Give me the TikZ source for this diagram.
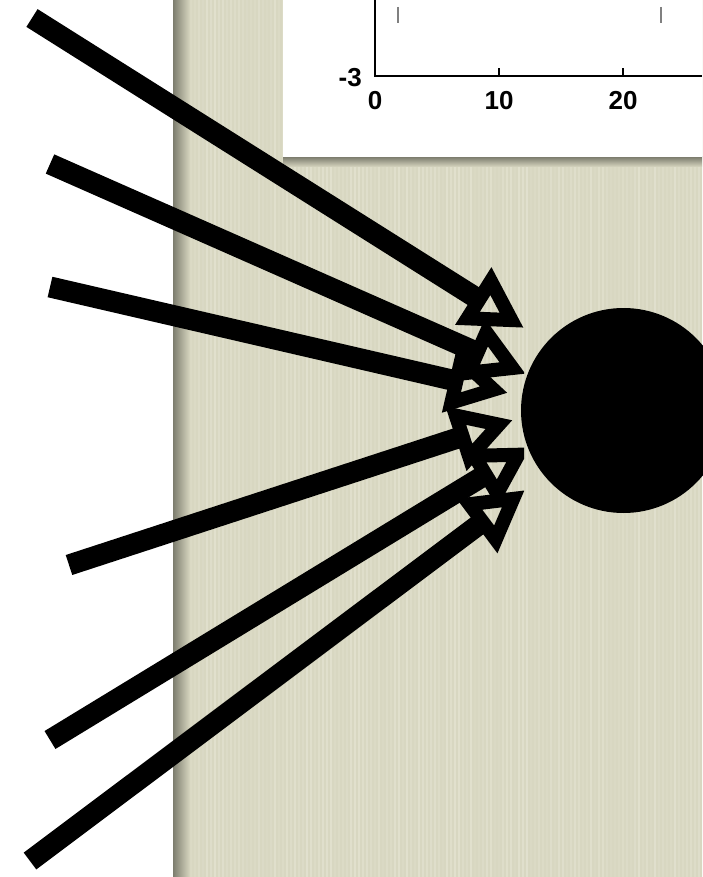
\documentclass[tikz,border=0pt]{standalone}
\usepackage{fontspec}
\newfontfamily\plotfont{Liberation Sans}
\usetikzlibrary{arrows.meta}
\definecolor{papel}{RGB}{216,215,193}
\definecolor{papelclaro}{RGB}{230,229,212}
\definecolor{sombra}{RGB}{125,125,110}

\tikzset{
  feed/.style={line width=21pt, -{Triangle[open, length=60pt, width=64pt, line width=14pt]}},
  ticklabel/.style={font=\plotfont\bfseries\fontsize{26}{28}\selectfont, inner sep=0pt},
}

\begin{document}
\begin{tikzpicture}[x=1pt, y=-1pt]
  \useasboundingbox (0,0) rectangle (702,877);
  % paper background
  \fill[papel] (173,0) rectangle (702,877);
  \pgfmathsetseed{7}
  \foreach \i in {0,...,130} { \pgfmathsetmacro\xx{186+4*\i} \pgfmathsetmacro\oo{0.15+0.55*rnd} \fill[papelclaro, opacity=\oo] (\xx,0) rectangle (\xx+2,877); }
  \shade[left color=sombra, right color=papel] (173,0) rectangle (190,877);
  % plot box
  \shade[top color=sombra, bottom color=papel] (283,157) rectangle (702,167);
  \fill[white] (283,0) rectangle (702,157);
  \draw[line width=2pt] (375,0) -- (375,76) -- (702,76);
  \foreach \x in {499,623} \draw[line width=1.5pt] (\x,76) -- (\x,68);
  \foreach \x in {398,661} \draw[gray, line width=1.5pt] (\x,7) -- (\x,23);
  \foreach \x/\l in {375/0, 499/10, 623/20} { \node[ticklabel] (tick\l) at (\x,101) {\l}; }
  \node[ticklabel, anchor=east] (ymin) at (362,78) {-3};
  % cell
  \node[circle, fill=black, minimum size=205pt, inner sep=0pt] (cell) at (623.5,410.5) {};
  % inputs
  \foreach \n/\sx/\sy/\tx/\ty in {1/32/18/524/328, 2/50/164/526/374, 3/50/287/508/393, 4/69/565/513/420, 5/50/740/531/447, 6/30/861/525/490} {
    \coordinate (s\n) at (\sx,\sy);
    \coordinate (t\n) at (\tx,\ty);
  }
  \begin{scope}
    \clip (0,0) rectangle (524,877);
    \foreach \n in {1,...,6} \draw[feed] (s\n) -- (t\n);
  \end{scope}
\end{tikzpicture}
\end{document}
